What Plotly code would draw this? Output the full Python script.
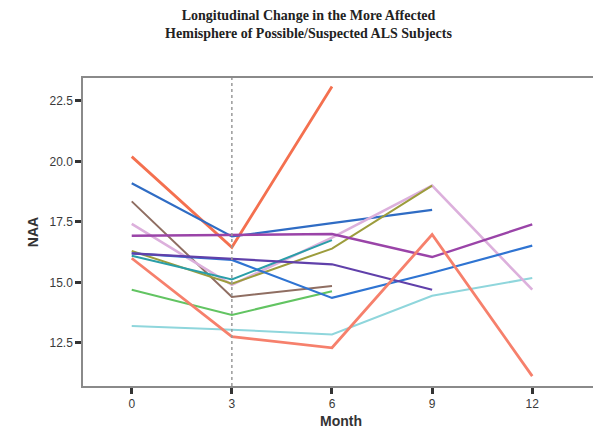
import plotly.graph_objects as go

months = [0, 3, 6, 9, 12]

red1 = [20.2, 16.45, 23.1]
blue1 = [19.1, 16.9, 17.45, 18.0]
purple = [16.93, 16.95, 17.0, 16.05, 17.4]
brown = [18.35, 14.4, 14.85]
pink = [17.42, 14.9, 16.85, 19.0, 14.7]
olive = [16.3, 14.95, 16.4, 19.0]
teal = [16.1, 15.12, 16.75]
indigo = [16.2, 15.97, 15.75, 14.7]
blue2 = [16.2, 15.93, 14.36, 15.4, 16.52]
green = [14.7, 13.66, 14.64]
cyan = [13.2, 13.05, 12.85, 14.45, 15.18]
red2 = [16.0, 12.76, 12.3, 16.98, 11.13]

series = [
    ("S1", red1, "#f4704f", 2.8),
    ("S2", blue1, "#2f6cc4", 2.2),
    ("S3", cyan, "#8fd6dc", 2.0),
    ("S4", green, "#62c462", 2.0),
    ("S5", brown, "#8f6e62", 2.0),
    ("S6", pink, "#dcb0dc", 2.6),
    ("S7", olive, "#9c9c3c", 2.0),
    ("S8", teal, "#2a9ea8", 2.0),
    ("S9", blue2, "#2f74d2", 2.2),
    ("S10", indigo, "#6040aa", 2.2),
    ("S11", purple, "#9a44a8", 2.4),
    ("S12", red2, "#f6806c", 2.8),
]

fig = go.Figure()
for name, vals, color, w in series:
    fig.add_trace(go.Scatter(
        x=months[:len(vals)], y=vals, mode="lines", name=name,
        line=dict(color=color, width=w), showlegend=False,
    ))

fig.add_vline(x=3, line=dict(color="#9a9a9a", width=1.5, dash="dot"))

fig.update_layout(
    width=601, height=432,
    margin=dict(l=75, r=8, t=70, b=54),
    paper_bgcolor="white", plot_bgcolor="white",
    title=dict(
        text="<b>Longitudinal Change in the More Affected<br>Hemisphere of Possible/Suspected ALS Subjects</b>",
        x=0.5, xanchor="center", y=0.972, yanchor="top",
        font=dict(family="Liberation Serif, Times New Roman, serif", size=14, color="#222"),
    ),
    font=dict(family="Liberation Sans, Arial, sans-serif", size=12, color="#3a3a3a"),
)

fig.update_xaxes(
    range=[-1.46, 14.0], tickvals=[0, 3, 6, 9, 12], ticktext=["0", "3", "6", "9", "12"],
    showgrid=False, zeroline=False,
    showline=True, linecolor="#8a8a8a", linewidth=1.5, mirror=True,
    ticks="outside", ticklen=6, tickwidth=2.5, tickcolor="#333",
    title=dict(text="<b>Month</b>", font=dict(size=14, color="#333"), standoff=6),
)
fig.update_yaxes(
    range=[10.72, 23.45], tickvals=[12.5, 15.0, 17.5, 20.0, 22.5],
    ticktext=["12.5", "15.0", "17.5", "20.0", "22.5"],
    showgrid=False, zeroline=False,
    showline=True, linecolor="#8a8a8a", linewidth=1.5, mirror=True,
    ticks="outside", ticklen=6, tickwidth=2.5, tickcolor="#333",
    title=dict(text="<b>NAA</b>", font=dict(size=14, color="#333"), standoff=8),
)

fig.write_html("out.html")
